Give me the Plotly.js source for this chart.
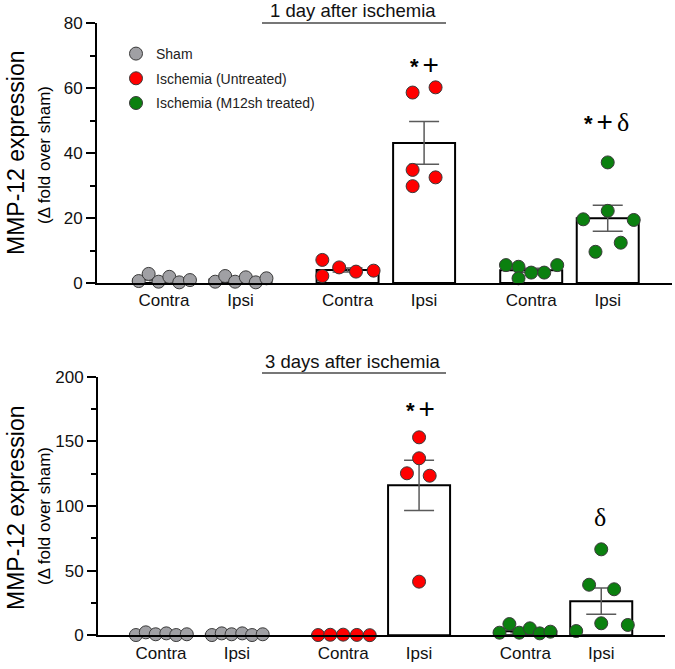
<!DOCTYPE html>
<html>
<head>
<meta charset="utf-8">
<script src="https://cdn.plot.ly/plotly-3.0.1.min.js"></script>
<style>html,body{margin:0;padding:0;background:#fff;}</style>
</head>
<body>
<div id="chart" style="width:675px;height:669px;"></div>
<script>
// ---------- DATA ----------
const tickLabels = ["Contra", "Ipsi", "Contra", "Ipsi", "Contra", "Ipsi"];
const groupPos = [0, 1, 2.4, 3.4, 4.8, 5.8];
const seriesNames = ["Sham", "Ischemia (Untreated)", "Ischemia (M12sh treated)"];

// Day 1 individual points
const d1ShamContra = [0.6, 2.8, 0.4, 1.9, 0.2, 0.9];
const d1ShamIpsi = [0.4, 2.15, 0.4, 1.75, 0.2, 1.45];
const d1IschContra = [7.1, 2.15, 4.8, 3.5, 3.8];
const d1IschIpsi = [58.6, 60.2, 34.8, 32.5, 29.8];
const d1TreatContra = [5.5, 5.0, 1.45, 3.2, 3.2, 5.5];
const d1TreatIpsi = [37.1, 22.2, 19.6, 19.4, 12.4, 9.6];
// Day 1 bar means and SEM
const d1Mean = [1.1, 1.05, 4.0, 43.1, 3.9, 19.9];
const d1Sem = [0.4, 0.35, 0.6, 6.6, 0.6, 4.0];

// Day 3 individual points
const d3ShamContra = [0.2, 2.3, 0.8, 1.5, 0.2, 0.8];
const d3ShamIpsi = [0.2, 1.5, 0.8, 1.5, 0.2, 0.8];
const d3IschContra = [0.2, 0.4, 0.5, 0.3, 0.1];
const d3IschIpsi = [153.1, 136.9, 125.3, 123.4, 41.5];
const d3TreatContra = [2.0, 8.7, 2.0, 5.4, 1.5, 2.8];
const d3TreatIpsi = [66.5, 39.1, 35.6, 3.3, 9.3, 8.0];
// Day 3 bar means and SEM
const d3Mean = [0.95, 0.85, 0.3, 116.0, 3.2, 26.4];
const d3Sem = [0.4, 0.25, 0.1, 19.4, 1.2, 10.2];

// ---------- POSITION / STYLE (jitter offsets, in category units) ----------
const jit6 = [-0.33, -0.2, -0.07, 0.07, 0.2, 0.34];
const jitD1IschContra = [-0.33, -0.33, -0.11, 0.11, 0.34];
const jitD1IschIpsi = [-0.15, 0.15, -0.15, 0.15, -0.15];
const jitD1TreatContra = [-0.33, -0.166, -0.166, 0, 0.17, 0.34];
const jitD1TreatIpsi = [0, 0, -0.32, 0.34, 0.17, -0.16];
const jitD3IschContra = [-0.33, -0.17, 0, 0.18, 0.35];
const jitD3IschIpsi = [0, 0, -0.16, 0.14, 0];
const jitD3TreatContra = [-0.34, -0.21, -0.08, 0.06, 0.19, 0.33];
const jitD3TreatIpsi = [0, -0.16, 0.17, -0.33, 0, 0.35];

const colors = ["#a0a0a4", "#ff0000", "#0b800f"];
const FONT = "Liberation Sans, Arial, sans-serif";

function pts(vals, pos, jit, ci, xa, ya, showlegend) {
  return {
    type: "scatter", mode: "markers",
    x: vals.map((v, i) => groupPos[pos] + jit[i]),
    y: vals,
    xaxis: xa, yaxis: ya,
    name: seriesNames[ci], legendgroup: "g" + ci,
    showlegend: !!showlegend,
    marker: {size: 13, color: colors[ci], line: {color: "#3a3a3a", width: 1}},
    hoverinfo: "skip", cliponaxis: false
  };
}
function bars(mean, sem, xa, ya, w) {
  return {
    type: "bar", x: groupPos, y: mean, xaxis: xa, yaxis: ya,
    width: w, showlegend: false, hoverinfo: "skip",
    marker: {color: "#ffffff", line: {color: "#000000", width: 2}},
    error_y: {type: "data", array: sem, visible: true, color: "#5a5a5a", thickness: 1.5, width: 15}
  };
}

const data = [
  bars(d1Mean, d1Sem, "x", "y", 0.81),
  pts(d1ShamContra, 0, jit6, 0, "x", "y", true),
  pts(d1ShamIpsi, 1, jit6, 0, "x", "y"),
  pts(d1IschContra, 2, jitD1IschContra, 1, "x", "y", true),
  pts(d1IschIpsi, 3, jitD1IschIpsi, 1, "x", "y"),
  pts(d1TreatContra, 4, jitD1TreatContra, 2, "x", "y", true),
  pts(d1TreatIpsi, 5, jitD1TreatIpsi, 2, "x", "y"),
  bars(d3Mean, d3Sem, "x2", "y2", 0.817),
  pts(d3ShamContra, 0, jit6, 0, "x2", "y2"),
  pts(d3ShamIpsi, 1, jit6, 0, "x2", "y2"),
  pts(d3IschContra, 2, jitD3IschContra, 1, "x2", "y2"),
  pts(d3IschIpsi, 3, jitD3IschIpsi, 1, "x2", "y2"),
  pts(d3TreatContra, 4, jitD3TreatContra, 2, "x2", "y2"),
  pts(d3TreatIpsi, 5, jitD3TreatIpsi, 2, "x2", "y2")
];

const W = 675, H = 669;
const px = v => v / W, py = v => 1 - v / H;

function xax(domain, range, anchor) {
  return {
    domain: domain, range: range, anchor: anchor,
    tickmode: "array", tickvals: groupPos, ticktext: tickLabels,
    showline: true, linecolor: "#000", linewidth: 2, ticks: "",
    showgrid: false, zeroline: false,
    tickfont: {family: FONT, size: 17, color: "#111"},
    ticklabelstandoff: 1
  };
}
function yax(domain, range, dtick, minorDtick, anchor) {
  return {
    domain: domain, range: range, anchor: anchor,
    dtick: dtick, tick0: 0,
    showline: true, linecolor: "#000", linewidth: 2,
    ticks: "outside", ticklen: 9, tickwidth: 2, tickcolor: "#000",
    minor: {ticks: "outside", ticklen: 5, tickwidth: 2, tickcolor: "#000", dtick: minorDtick, tick0: 0},
    showgrid: false, zeroline: false,
    tickfont: {family: FONT, size: 17, color: "#111"}
  };
}

function ann(x, y, text, size, extra) {
  return Object.assign({xref: "paper", yref: "paper", x: px(x), y: py(y), text: text,
    xanchor: "center", yanchor: "middle", showarrow: false,
    font: {family: FONT, size: size, color: "#000"}}, extra || {});
}
const star = "<span style=\"font-size:22px\"><b>*</b></span>";
const plus = "<span style=\"font-size:28px\">+</span>";
const gap = "<span style=\"font-size:20px\">\u2009</span>";
const delta = "<span style=\"font-family:'Liberation Serif',serif;font-size:26px\">δ</span>";

const layout = {
  width: W, height: H,
  margin: {l: 0, r: 0, t: 0, b: 0},
  paper_bgcolor: "#fff", plot_bgcolor: "rgba(0,0,0,0)",
  bargap: 0,
  xaxis: xax([px(97), px(672)], [-0.875, 6.64], "y"),
  yaxis: yax([py(283), py(23)], [0, 80], 20, 10, "x"),
  xaxis2: xax([px(98), px(665)], [-0.83, 6.64], "y2"),
  yaxis2: yax([py(635.3), py(376.7)], [0, 200], 50, 25, "x2"),
  showlegend: true,
  legend: {
    x: px(116), y: py(38), xanchor: "left", yanchor: "top",
    bgcolor: "rgba(0,0,0,0)", borderwidth: 0,
    font: {family: FONT, size: 14, color: "#222"},
    tracegroupgap: 3.5, itemclick: false
  },
  annotations: [
    ann(16, 153, "MMP-12 expression", 23, {textangle: -90}),
    ann(44, 155, "(Δ fold over sham)", 17, {textangle: -90}),
    ann(16, 508, "MMP-12 expression", 23, {textangle: -90}),
    ann(44, 516, "(Δ fold over sham)", 17, {textangle: -90}),
    ann(353, 11, "1 day after ischemia", 18.5, {font: {family: FONT, size: 18.5, color: "#111"}}),
    ann(353, 361, "3 days after ischemia", 18.5, {font: {family: FONT, size: 18.5, color: "#111"}}),
    ann(424, 64, star + gap + plus, 24),
    ann(606, 121, star + gap + plus + gap + delta, 24),
    ann(420, 409, star + gap + plus, 24),
    ann(600, 517, "δ", 26, {font: {family: "Liberation Serif, serif", size: 26, color: "#000"}})
  ],
  shapes: [
    {type: "line", xref: "paper", yref: "paper", x0: px(262), x1: px(446), y0: py(23), y1: py(23),
     line: {color: "#777", width: 2}},
    {type: "line", xref: "paper", yref: "paper", x0: px(262), x1: px(446), y0: py(373), y1: py(373),
     line: {color: "#777", width: 2}}
  ]
};

Plotly.newPlot("chart", data, layout, {displayModeBar: false, staticPlot: true});
</script>
</body>
</html>
